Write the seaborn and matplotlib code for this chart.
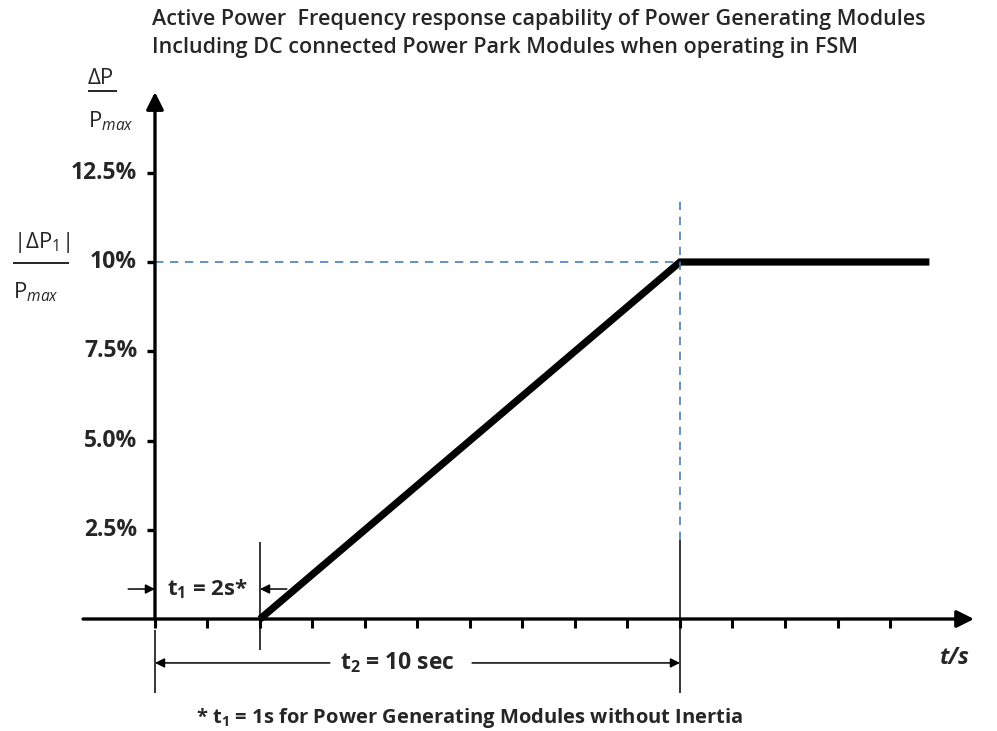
import matplotlib
matplotlib.use("Agg")
from matplotlib import pyplot as plt
import seaborn as sns
import pandas as pd

# response curve: time (s) vs delta P / Pmax (%)
t_points = [2, 10, 14.75]
p_points = [0, 10, 10]

xtick_vals = list(range(0, 15))
ytick_vals = [2.5, 5.0, 7.5, 10, 12.5]
ytick_labels = ["2.5%", "5.0%", "7.5%", "10%", "12.5%"]

t1 = 2
t2 = 10
p_full = 10

title_lines = ["Active Power  Frequency response capability of Power Generating Modules",
               "Including DC connected Power Park Modules when operating in FSM"]
note = "* t$_\\mathbf{1}$ = 1s for Power Generating Modules without Inertia"

sns.set_style("white")
plt.rcParams['font.family'] = ['Open Sans', 'DejaVu Sans']
plt.rcParams['mathtext.fontset'] = 'custom'
plt.rcParams['mathtext.rm'] = 'Open Sans'
plt.rcParams['mathtext.it'] = 'Open Sans:italic'
plt.rcParams['mathtext.bf'] = 'Open Sans:bold'

fig = plt.figure(figsize=(9.97, 7.31), dpi=100)
ax = fig.add_axes([0, 0, 1, 1])
ax.set_xlim(-2.952, 16.038)
ax.set_ylim(-3.137, 17.339)
ax.axis("off")

df = pd.DataFrame({"t": t_points, "p": p_points})
sns.lineplot(data=df, x="t", y="p", color="black", lw=5.2, ax=ax,
             solid_capstyle="butt", solid_joinstyle="miter")

# axes with arrows
ax.annotate("", xy=(15.6, 0), xytext=(-1.37, 0),
            arrowprops=dict(arrowstyle="-|>", lw=2.4, color="black", mutation_scale=26, shrinkA=0, shrinkB=0))
ax.annotate("", xy=(0, 14.76), xytext=(0, 0),
            arrowprops=dict(arrowstyle="-|>", lw=2.4, color="black", mutation_scale=26, shrinkA=0, shrinkB=0))

ax.vlines(xtick_vals, -0.25, 0, color="black", lw=2.2)
ax.hlines(ytick_vals, -0.16, 0, color="black", lw=2.4)
for v, lab in zip(ytick_vals, ytick_labels):
    ax.text(-0.34, v, lab, ha="right", va="center", fontsize=16.5, fontweight="bold")

# guides
blue = "#4a7ebb"
ax.hlines(p_full, 0, t2, color=blue, lw=1.2, linestyles=(0, (5, 4)))
ax.vlines(t2, 2.21, 11.82, color=blue, lw=1.2, linestyles=(0, (5, 4)))
ax.vlines(t2, -2.07, 2.21, color="black", lw=1.1)
ax.vlines(t1, -0.87, 2.16, color="black", lw=1.1)
ax.vlines(0, -2.07, -0.3, color="black", lw=1.1)

# t1 dimension
arr = dict(arrowstyle="-|>", lw=1.1, color="black", mutation_scale=14, shrinkA=0, shrinkB=0)
ax.annotate("", xy=(0, 0.84), xytext=(-0.51, 0.84), arrowprops=arr)
ax.annotate("", xy=(t1, 0.84), xytext=(2.51, 0.84), arrowprops=arr)
ax.text(t1 / 2, 0.84, "t$_\\mathbf{1}$ = 2s*", ha="center", va="center", fontsize=16, fontweight="bold")

# t2 dimension
ax.annotate("", xy=(0, -1.23), xytext=(3.33, -1.23), arrowprops=arr)
ax.annotate("", xy=(t2, -1.23), xytext=(6.04, -1.23), arrowprops=arr)
ax.text(4.62, -1.23, "t$_\\mathbf{2}$ = 10 sec", ha="center", va="center", fontsize=16.5, fontweight="bold")

ax.text(15.24, -1.09, "t/s", ha="center", va="center", fontsize=16.5, fontweight="bold", style="italic")
ax.text(6.0, -2.77, note, ha="center", va="center", fontsize=14.5, fontweight="bold")

# y label fractions
ax.text(-1.03, 15.15, "ΔP", ha="center", va="center", fontsize=16)
ax.hlines(14.8, -1.28, -0.72, color="black", lw=1.2)
ax.text(-1.28, 13.95, "P$_{\\mathit{max}}$", ha="left", va="center", fontsize=16)

ax.text(-2.7, 10.55, "|ΔP$_1$|", ha="left", va="center", fontsize=16)
ax.hlines(9.97, -2.70, -1.63, color="black", lw=1.2)
ax.text(-2.7, 9.15, "P$_{\\mathit{max}}$", ha="left", va="center", fontsize=16)

for i, line in enumerate(title_lines):
    fig.text(152 / 997, 1 - (20 + 28 * i) / 731, line, ha="left", va="center",
             fontsize=15.5, fontweight="semibold")

fig.savefig("out.png", dpi=100)
